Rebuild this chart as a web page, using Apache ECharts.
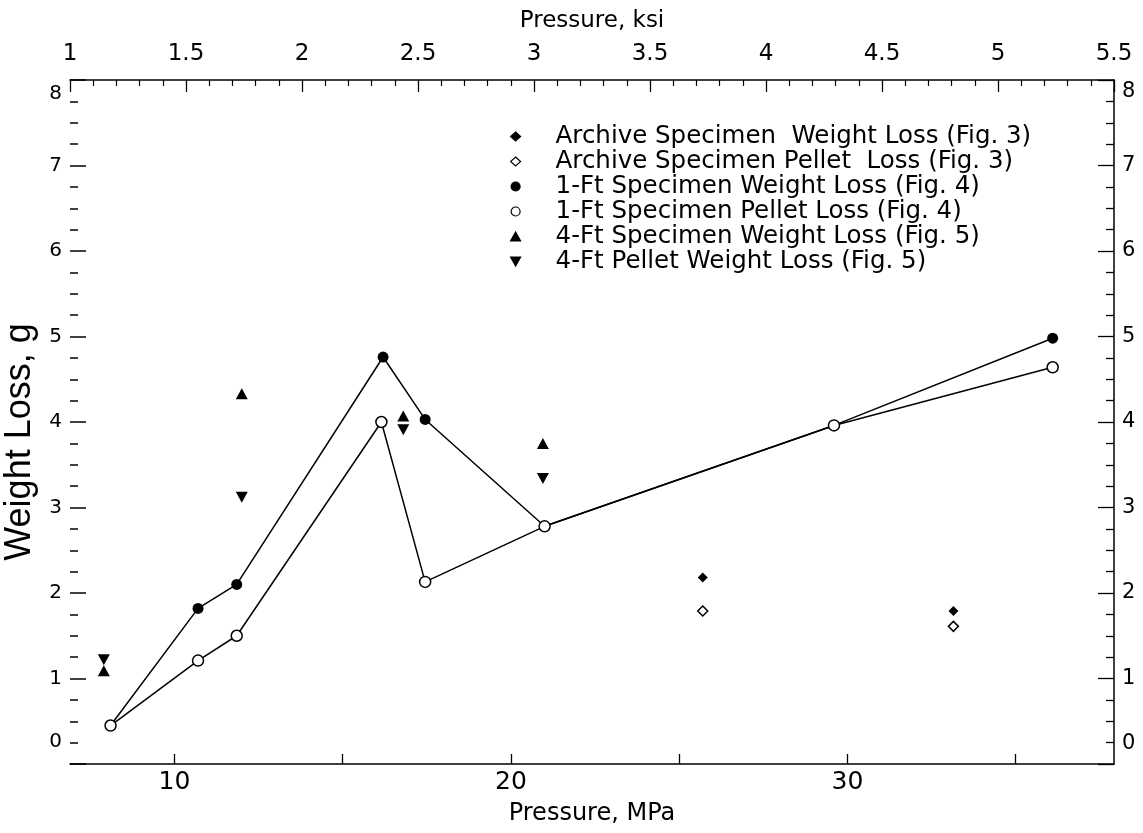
<!DOCTYPE html>
<html lang="en">
<head>
  <meta charset="UTF-8">
  <script src="https://cdn.jsdelivr.net/npm/echarts@6/dist/echarts.min.js"></script>
  <title>Weight Loss vs Pressure</title>
  <style>
    html, body { margin: 0; padding: 0; background: #fff; }
  </style>
</head>
<body>
  <div id="main" style="width: 1143px;height:833px;"></div>
  <script type="text/javascript">
    var myChart = echarts.init(document.getElementById('main'));

    // 数据 (MPa, g)
    var archWeightMPa = [25.7, 33.15];
    var archWeightLoss = [2.18, 1.79];
    var archPelletMPa = [25.7, 33.15];
    var archPelletLoss = [1.79, 1.61];
    var ftWeightMPa = [10.7, 11.85, 16.2, 17.45, 36.1];
    var ftWeightLoss = [1.82, 2.10, 4.76, 4.03, 4.98];
    var ftPelletMPa = [8.1, 10.7, 11.85, 16.15, 17.45, 21.0, 29.6, 36.1];
    var ftPelletLoss = [0.45, 1.21, 1.50, 4.00, 2.13, 2.78, 3.96, 4.64];
    var sharedIdx = [0, 5, 6]; // pellet points the weight-loss curve also passes through
    var ft4WeightMPa = [7.9, 12.0, 16.8, 20.95];
    var ft4WeightLoss = [1.09, 4.33, 4.07, 3.75];
    var ft4PelletMPa = [7.9, 12.0, 16.8, 20.95];
    var ft4PelletLoss = [1.22, 3.12, 3.91, 3.34];

    var mpaLabels = [10, 20, 30];
    var mpaTicks = [10, 15, 20, 25, 30, 35];
    var ksiMin = 1, ksiMax = 5.5;
    var mpaMin = ksiMin * 6.895, mpaMax = ksiMax * 6.895;

    function pairs(xs, ys) {
      return xs.map(function (x, i) { return [x, ys[i]]; });
    }

    var weightPath = sharedIdx.map(function (i) { return [ftPelletMPa[i], ftPelletLoss[i]]; })
      .concat(pairs(ftWeightMPa, ftWeightLoss))
      .sort(function (a, b) { return a[0] - b[0]; });

    var font = 'DejaVu Sans';
    var black = '#000';
    var names = [
      'Archive Specimen  Weight Loss (Fig. 3)',
      'Archive Specimen Pellet  Loss (Fig. 3)',
      '1-Ft Specimen Weight Loss (Fig. 4)',
      '1-Ft Specimen Pellet Loss (Fig. 4)',
      '4-Ft Specimen Weight Loss (Fig. 5)',
      '4-Ft Pellet Weight Loss (Fig. 5)'
    ];
    var filled = { color: black, borderColor: black, borderWidth: 0, opacity: 1 };
    var hollow = { color: '#fff', borderColor: black, borderWidth: 1.5, opacity: 1 };
    var downTri = 'path://M0,0L10,0L5,9Z';

    // end labels sit a little inside the frame, as in the original
    function yLabel(v) {
      if (v === 8) return '{top|8}';
      if (v === 0) return '{bot|0}';
      return String(v);
    }
    function yRich(size, downTop, upBot) {
      return {
        top: { fontFamily: font, fontSize: size, color: black, padding: [downTop, 0, 0, 0] },
        bot: { fontFamily: font, fontSize: size, color: black, padding: [0, 0, upBot, 0] }
      };
    }

    var option = {
      backgroundColor: '#fff',
      animation: false,
      grid: { left: 70, right: 29, top: 80, bottom: 69, outerBoundsMode: 'none', containLabel: false },
      legend: {
        orient: 'vertical',
        left: 505,
        top: 119,
        itemWidth: 10,
        itemHeight: 9,
        itemGap: 0,
        symbolKeepAspect: true,
        data: names,
        itemStyle: { borderWidth: 1.2 },
        textStyle: { fontFamily: font, fontSize: 24.5, lineHeight: 25, color: black, padding: [0, 0, 0, 30] }
      },
      xAxis: [
        {
          type: 'value', position: 'bottom',
          min: mpaMin, max: mpaMax,
          name: 'Pressure, MPa', nameLocation: 'middle', nameGap: 38,
          nameTextStyle: { fontFamily: font, fontSize: 24, color: black },
          axisLine: { show: true, onZero: false, lineStyle: { color: black, width: 1.5 } },
          axisTick: { show: true, inside: true, length: 10, customValues: mpaTicks, lineStyle: { color: black, width: 1.3 } },
          axisLabel: { customValues: mpaLabels, margin: 6, fontFamily: font, fontSize: 25, color: black },
          minorTick: { show: false },
          splitLine: { show: false }
        },
        {
          type: 'value', position: 'top',
          min: ksiMin, max: ksiMax, interval: 0.5,
          name: 'Pressure, ksi', nameLocation: 'middle', nameGap: 47,
          nameTextStyle: { fontFamily: font, fontSize: 23, color: black },
          axisLine: { show: true, onZero: false, lineStyle: { color: black, width: 1.5 } },
          axisTick: { show: true, inside: true, length: 12, lineStyle: { color: black, width: 1.3 } },
          minorTick: { show: true, splitNumber: 5, length: 6, lineStyle: { color: black, width: 1.2 } },
          axisLabel: { margin: 14, fontFamily: font, fontSize: 23, color: black, showMinLabel: true, showMaxLabel: true },
          splitLine: { show: false }
        }
      ],
      yAxis: [
        {
          type: 'value', position: 'left',
          min: 0, max: 8, interval: 1,
          name: 'Weight Loss, g', nameLocation: 'middle', nameGap: 27,
          nameTextStyle: { fontFamily: 'Liberation Sans', fontSize: 36, color: black, padding: [0, 40, 0, 0] },
          axisLine: { show: false },
          axisTick: { show: true, inside: true, length: 16, lineStyle: { color: black, width: 1.5 } },
          minorTick: { show: true, splitNumber: 4, length: 8, lineStyle: { color: black, width: 1.5 } },
          axisLabel: { margin: 8, fontFamily: font, fontSize: 20, color: black, formatter: yLabel, rich: yRich(20, 28, 44) },
          splitLine: { show: false }
        },
        {
          type: 'value', position: 'right',
          min: 0, max: 8, interval: 1,
          axisLine: { show: true, lineStyle: { color: black, width: 1.5 } },
          axisTick: { show: true, inside: true, length: 16, lineStyle: { color: black, width: 1.3 } },
          minorTick: { show: true, splitNumber: 4, length: 8, lineStyle: { color: black, width: 1.3 } },
          axisLabel: { margin: 8, fontFamily: font, fontSize: 21, color: black, formatter: yLabel, rich: yRich(21, 24, 40) },
          splitLine: { show: false }
        }
      ],
      series: [
        {
          name: 'weightPath', type: 'line', xAxisIndex: 0, yAxisIndex: 0,
          data: weightPath, symbol: 'none', z: 2,
          lineStyle: { color: black, width: 1.5 }
        },
        {
          name: 'pelletPath', type: 'line', xAxisIndex: 0, yAxisIndex: 0,
          data: pairs(ftPelletMPa, ftPelletLoss), symbol: 'none', z: 2,
          lineStyle: { color: black, width: 1.5 }
        },
        {
          name: names[0], type: 'scatter', xAxisIndex: 0, yAxisIndex: 0, z: 3,
          data: pairs(archWeightMPa, archWeightLoss),
          symbol: 'diamond', symbolSize: 10, itemStyle: filled
        },
        {
          name: names[1], type: 'scatter', xAxisIndex: 0, yAxisIndex: 0, z: 3,
          data: pairs(archPelletMPa, archPelletLoss),
          symbol: 'diamond', symbolSize: 10, itemStyle: hollow
        },
        {
          name: names[2], type: 'scatter', xAxisIndex: 0, yAxisIndex: 0, z: 3,
          data: pairs(ftWeightMPa, ftWeightLoss),
          symbol: 'circle', symbolSize: 11, itemStyle: filled
        },
        {
          name: names[3], type: 'scatter', xAxisIndex: 0, yAxisIndex: 0, z: 4,
          data: pairs(ftPelletMPa, ftPelletLoss),
          symbol: 'circle', symbolSize: 11, itemStyle: hollow
        },
        {
          name: names[4], type: 'scatter', xAxisIndex: 0, yAxisIndex: 0, z: 3,
          data: pairs(ft4WeightMPa, ft4WeightLoss),
          symbol: 'triangle', symbolSize: [12, 11], itemStyle: filled
        },
        {
          name: names[5], type: 'scatter', xAxisIndex: 0, yAxisIndex: 0, z: 3,
          data: pairs(ft4PelletMPa, ft4PelletLoss),
          symbol: downTri, symbolSize: [12, 11], itemStyle: filled
        }
      ]
    };

    myChart.setOption(option);
  </script>
</body>
</html>
